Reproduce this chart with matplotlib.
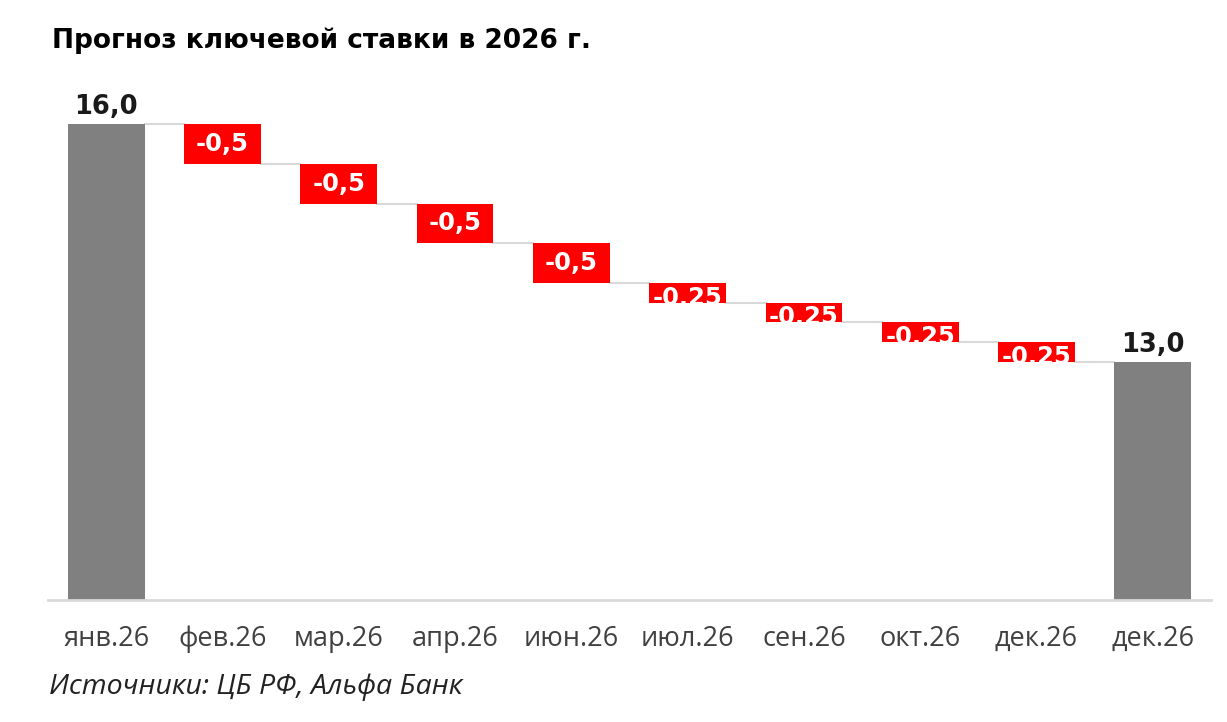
import matplotlib.pyplot as plt
import numpy as np

# данные прогноза ключевой ставки
months = ['янв.26', 'фев.26', 'мар.26', 'апр.26', 'июн.26',
          'июл.26', 'сен.26', 'окт.26', 'дек.26', 'дек.26']
start_rate = 16.0
changes = [-0.5, -0.5, -0.5, -0.5, -0.25, -0.25, -0.25, -0.25]
change_labels = ['-0,5', '-0,5', '-0,5', '-0,5', '-0,25', '-0,25', '-0,25', '-0,25']
end_rate = 13.0

fig = plt.figure(figsize=(12.27, 7.22), dpi=100)
ax = fig.add_axes([0.0391, 0.169, 0.9478, 0.7687])

x = np.arange(len(months))
w = 0.66
gray = '#808080'
red = '#ff0000'

# first and last totals
ax.bar(x[0], start_rate - 10, bottom=10, width=w, color=gray)
ax.bar(x[-1], end_rate - 10, bottom=10, width=w, color=gray)
ax.text(x[0], start_rate + 0.05, '16,0', ha='center', va='bottom',
        fontsize=18.5, fontweight='bold', color='#1a1a1a')
ax.text(x[-1], end_rate + 0.05, '13,0', ha='center', va='bottom',
        fontsize=18.5, fontweight='bold', color='#1a1a1a')

# running total and change bars
level = start_rate
levels = [level]
for i, (d, lab) in enumerate(zip(changes, change_labels)):
    new = level + d
    b = ax.bar(x[i + 1], -d, bottom=new, width=w, color=red)[0]
    yt = (level + new) / 2
    if abs(d) < 0.5:
        yt -= 0.06  # text sticks out of the thin bars and gets cut
    t = ax.text(x[i + 1], yt, lab, ha='center', va='center', fontsize=17.5,
                fontweight='bold', color='white')
    t.set_clip_path(b)
    level = new
    levels.append(level)

# connector lines
for i, lv in enumerate(levels):
    ax.plot([x[i] + w / 2, x[i + 1] - w / 2], [lv, lv], color='#d9d9d9', lw=1.5, zorder=0)

ax.set_xlim(-0.5, 9.5)
ax.set_ylim(10, 17)
ax.set_yticks([])
ax.set_xticks(x)
ax.set_xticklabels(months, fontsize=19.5, color='#404040', family='Open Sans')
ax.tick_params(axis='x', length=0, pad=18)
for s in ['top', 'right', 'left']:
    ax.spines[s].set_visible(False)
ax.spines['bottom'].set_color('#d9d9d9')
ax.spines['bottom'].set_linewidth(2)

fig.text(0.042, 0.943, 'Прогноз ключевой ставки в 2026 г.', fontsize=19,
         fontweight='bold', va='center', ha='left')
fig.text(0.040, 0.048, 'Источники: ЦБ РФ, Альфа Банк', fontsize=20.5,
         style='italic', va='center', ha='left', family='Open Sans', color='#222222')

fig.savefig('out.png', dpi=100)
